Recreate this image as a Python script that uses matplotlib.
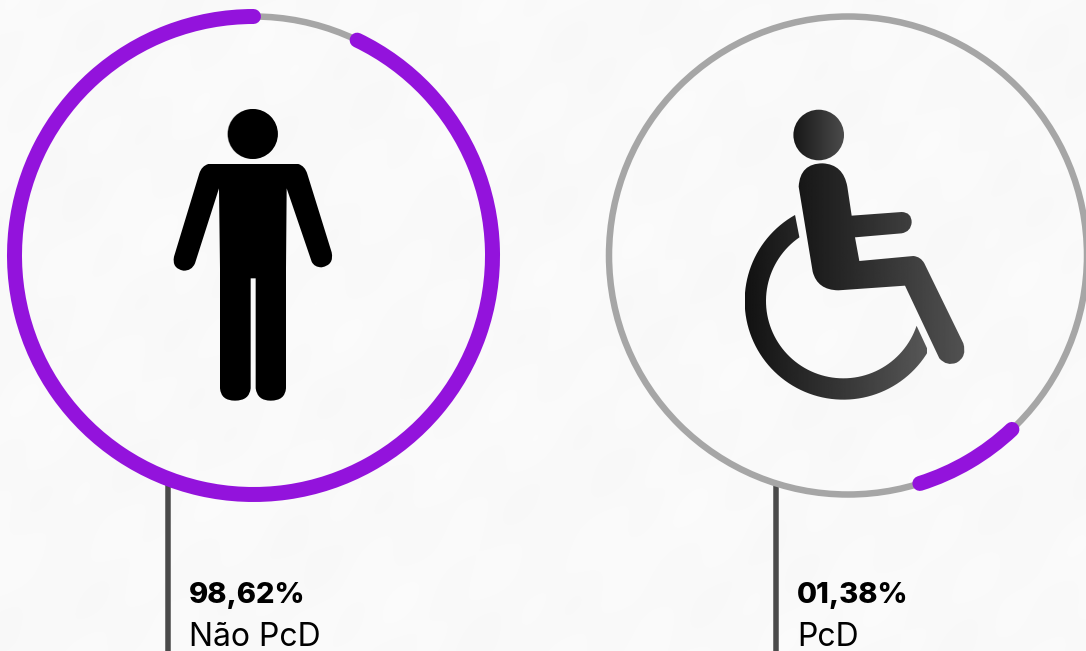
#!/usr/bin/env python3
"""Two ring gauges with pictograms: share of PcD and non-PcD."""
import numpy as np
import matplotlib
matplotlib.use('Agg')
import matplotlib.pyplot as plt
from matplotlib.patches import Arc, Circle, PathPatch
from matplotlib.path import Path

# Data
SHARE_LABELS = ['98,62%', '01,38%']
GROUP_LABELS = ['Não PcD', 'PcD']
# purple arc ends, in degrees clockwise from 3 o'clock on screen
ARC_START = [-64.3, 46.7]
ARC_END = [270.0, 72.5]

C_RING = '#a6a6a6'
C_ARC = '#9313dc'
C_STEM = '#4a4a4a'
C_INK = '#000000'

CENTERS_X = [253.5, 848.0]
CENTER_Y = 255.5
RADIUS = 239.0
STEM_X = [167.5, 775.5]
STEM_TOP = [480, 484]
TEXT_X = [189, 797]
PX = 0.72  # one pixel in points at dpi 100
FONTS = ['Inter', 'Lato', 'DejaVu Sans']


def glyph_path(spec, x0, y0, scale=1 / 3):
    """Path from M/L/Q commands given in zoomed icon coordinates."""
    verts, codes = [], []
    for cmd in spec:
        pts = [(x0 + cmd[i] * scale, y0 + cmd[i + 1] * scale)
               for i in range(1, len(cmd), 2)]
        if cmd[0] == 'M':
            verts += pts
            codes.append(Path.MOVETO)
        elif cmd[0] == 'L':
            verts += pts
            codes.append(Path.LINETO)
        elif cmd[0] == 'Q':
            verts += pts
            codes += [Path.CURVE3, Path.CURVE3]
    verts.append(verts[0])
    codes.append(Path.CLOSEPOLY)
    return Path(verts, codes)


PERSON = [
    ('M', 175, 222), ('L', 445, 222), ('Q', 465, 228, 472, 252),
    ('L', 545, 487), ('Q', 553, 525, 515, 532), ('Q', 493, 532, 485, 515),
    ('L', 410, 295), ('L', 408, 535), ('L', 408, 895),
    ('Q', 405, 932, 362, 932), ('Q', 322, 932, 317, 895), ('L', 317, 565),
    ('L', 302, 565), ('L', 302, 895), ('Q', 298, 932, 255, 932),
    ('Q', 213, 932, 210, 895), ('L', 210, 535), ('L', 207, 295),
    ('L', 135, 520), ('Q', 125, 543, 100, 542), ('Q', 65, 535, 72, 500),
    ('L', 148, 250), ('Q', 155, 228, 175, 222),
]

SITTER = [
    ('M', 206, 275), ('Q', 210, 205, 278, 205), ('Q', 340, 208, 352, 275),
    ('L', 365, 362), ('L', 515, 351), ('Q', 545, 352, 545, 382),
    ('Q', 543, 410, 515, 415), ('L', 375, 427), ('L', 388, 498),
    ('L', 550, 483), ('Q', 572, 485, 583, 505), ('L', 700, 745),
    ('Q', 712, 785, 680, 803), ('Q', 650, 815, 628, 790), ('L', 525, 572),
    ('L', 325, 586), ('Q', 262, 585, 248, 530),
]


def wheel_path(x0, y0, scale=1 / 3):
    outer = np.radians(np.linspace(240.7, 30.5, 80))
    inner = np.radians(np.linspace(18.7, 235.4, 80))
    cx, cy = 340, 618
    xs = np.r_[cx + 296 * np.cos(outer), cx + 232 * np.cos(inner)]
    ys = np.r_[cy + 296 * np.sin(outer), cy + 232 * np.sin(inner)]
    return Path(np.c_[x0 + xs * scale, y0 + ys * scale], closed=False)


fig = plt.figure(figsize=(10.86, 6.51), dpi=100)
ax = fig.add_axes([0, 0, 1, 1])
ax.axis('off')

# faint paper mottling behind everything
yy, xx = np.mgrid[0:651, 0:1086]
mottle = (np.sin(xx / 37 + yy / 61) + np.sin(xx / 19 - yy / 29 + 1.3)
          + np.sin(xx / 83 + yy / 23 + 2.1) + np.sin(xx / 11 + yy / 13 + 0.4))
ax.imshow(0.976 + mottle * 0.0016, cmap='gray', vmin=0, vmax=1,
          extent=(0, 1086, 651, 0), aspect='auto', zorder=0)

for i in range(2):
    ax.plot([STEM_X[i], STEM_X[i]], [STEM_TOP[i], 651], color=C_STEM,
            lw=5.5 * PX, solid_capstyle='butt', zorder=1)
    ax.add_patch(Circle((CENTERS_X[i], CENTER_Y), RADIUS, fill=False,
                        ec=C_RING, lw=6.5 * PX, zorder=2))
    ax.add_patch(Arc((CENTERS_X[i], CENTER_Y), 2 * RADIUS, 2 * RADIUS,
                     theta1=ARC_START[i], theta2=ARC_END[i], color=C_ARC,
                     lw=15 * PX, capstyle='round', zorder=3))
    ax.text(TEXT_X[i], 603, SHARE_LABELS[i], fontsize=21, fontweight=800,
            family=FONTS, color=C_INK, va='baseline', ha='left')
    ax.text(TEXT_X[i], 646, GROUP_LABELS[i], fontsize=23, family=FONTS,
            color=C_INK, va='baseline', ha='left')

# standing figure
ax.add_patch(Circle((252.3, 134), 25, fc='#9a9a9a', ec='none', zorder=4))
ax.add_patch(Circle((252.9, 134), 25, fc='black', ec='none', zorder=4))
ax.add_patch(PathPatch(glyph_path(PERSON, 150, 90), fc='black', ec='none',
                       zorder=4))

# wheelchair symbol: head, body and wheel each carry a left-to-right grey fade
parts = [
    (Path.circle((818.7, 135), 25.3), (793, 845), (0.09, 0.30)),
    (glyph_path(SITTER, 730, 95), (798, 965), (0.09, 0.32)),
    (wheel_path(730, 95), (745, 927), (0.07, 0.34)),
]
for part, (x_left, x_right), (dark, light) in parts:
    fade = ax.imshow(np.linspace(dark, light, 256)[None, :], cmap='gray',
                     vmin=0, vmax=1, extent=(x_left, x_right, 401, 105),
                     aspect='auto', zorder=4)
    clip = PathPatch(part, transform=ax.transData, fc='none', ec='none')
    ax.add_patch(clip)
    fade.set_clip_path(clip)

ax.set_xlim(0, 1086)
ax.set_ylim(651, 0)
fig.savefig('out.png', dpi=100)
